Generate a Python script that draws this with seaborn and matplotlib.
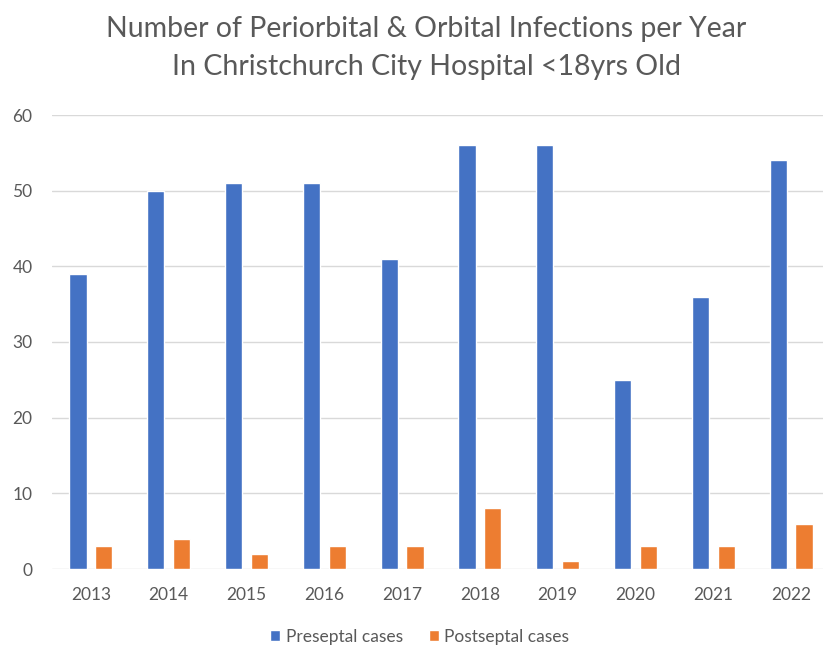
import pandas as pd
import matplotlib
matplotlib.use("Agg")
import matplotlib.pyplot as plt
import seaborn as sns

# data
years = ["2013", "2014", "2015", "2016", "2017", "2018", "2019", "2020", "2021", "2022"]
preseptal = [39, 50, 51, 51, 41, 56, 56, 25, 36, 54]
postseptal = [3, 4, 2, 3, 3, 8, 1, 3, 3, 6]
series_names = ["Preseptal cases", "Postseptal cases"]

df = pd.DataFrame({
    "year": years * 2,
    "cases": preseptal + postseptal,
    "type": [series_names[0]] * len(years) + [series_names[1]] * len(years),
})

sns.set_style("white")
plt.rcParams["font.family"] = ["Lato", "DejaVu Sans"]
grey = "#595959"

fig = plt.figure(figsize=(8.23, 6.51), dpi=100)
ax = fig.add_axes([52 / 823, 82 / 651, 778 / 823, 454 / 651])

sns.barplot(data=df, x="year", y="cases", hue="type", order=years,
            hue_order=series_names, palette=["#4472C4", "#ED7D31"],
            width=0.66, gap=0.33, saturation=1, ax=ax)

ax.set_xlim(-0.5, 9.5)
ax.set_ylim(0, 60)
ax.set_yticks(range(0, 61, 10))
ax.yaxis.grid(True, color="#d9d9d9", linewidth=1)
ax.set_axisbelow(True)
for s in ax.spines.values():
    s.set_visible(False)
ax.tick_params(axis="both", length=0, labelsize=12.5, colors=grey)
ax.tick_params(axis="x", pad=13)
ax.tick_params(axis="y", pad=14)
ax.set_xlabel("")
ax.set_ylabel("")

fig.text(0.518, 0.975, "Number of Periorbital & Orbital Infections per Year\nIn Christchurch City Hospital <18yrs Old",
         ha="center", va="top", fontsize=20.5, color=grey, linespacing=1.55)

ax.get_legend().remove()
handles, labels = ax.get_legend_handles_labels()
fig.legend(handles, labels, loc="center", bbox_to_anchor=(0.51, 0.022), ncol=2,
           frameon=False, fontsize=12.5, labelcolor=grey, handlelength=0.6,
           handleheight=0.6, handletextpad=0.3, columnspacing=1.5)

fig.savefig("out.png", dpi=100)
